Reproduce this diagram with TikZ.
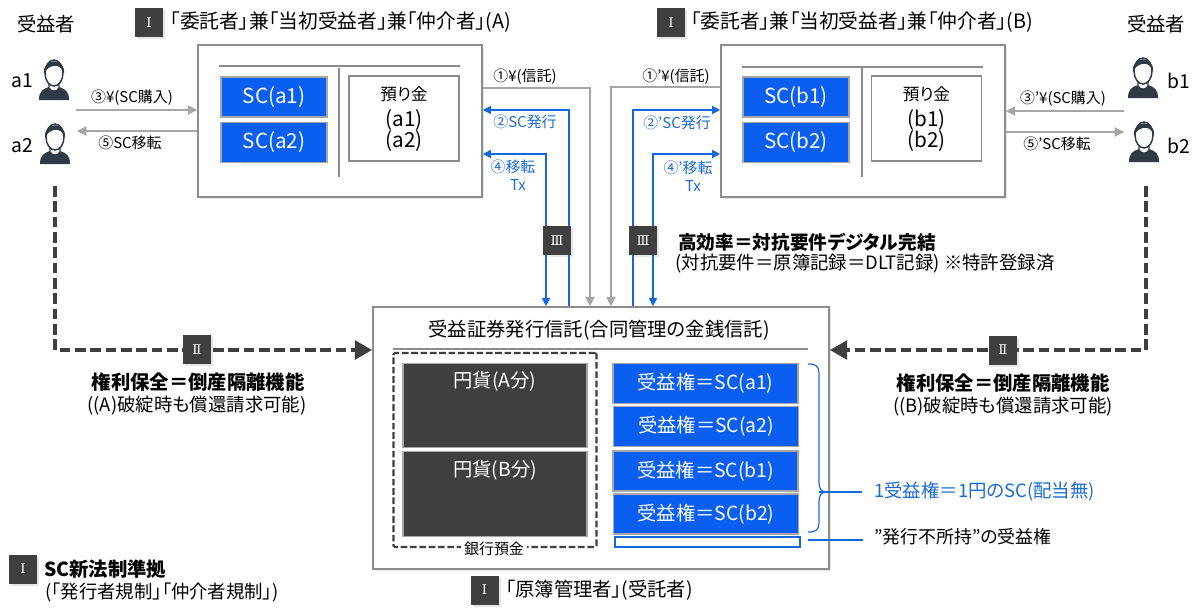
\documentclass[tikz,border=0pt]{standalone}
\usepackage{fontspec}
\setmainfont{Noto Sans CJK JP}[RawFeature=+palt]
\newfontfamily\numfont{DejaVu Serif}
\usetikzlibrary{positioning, arrows.meta, shadows}
\definecolor{scblue}{HTML}{0A5FF0}
\definecolor{lineblue}{HTML}{1467DC}
\definecolor{textblue}{HTML}{1A6AD2}
\definecolor{badgegray}{HTML}{3F3F3F}
\definecolor{rulegray}{HTML}{A6A6A6}
\definecolor{framegray}{HTML}{8C8C8C}
\definecolor{inkgray}{HTML}{2F3A45}
\tikzset{
	boxsize/.style 2 args={minimum width=#1*0.75pt, minimum height=#2*0.75pt, inner sep=0pt},
	softshadow/.style={drop shadow={opacity=0.2, shadow xshift=1.5pt, shadow yshift=-1.5pt}},
	frame/.style={draw=framegray, line width=1.2pt, fill=white, softshadow},
	scbox/.style={draw=rulegray, line width=0.8pt, fill=scblue, text=white},
	darkbox/.style={draw=rulegray, line width=0.8pt, fill=badgegray, anchor=north},
	badge/.style={fill=badgegray, text=white, font=\numfont\fontsize{10}{10}\selectfont, boxsize={28}{29}, softshadow},
	rule/.style={draw=framegray, line width=0.8pt},
	flowgray/.style={draw=rulegray, line width=0.9pt, -{Triangle[length=7pt, width=7pt]}},
	flowblue/.style={draw=lineblue, line width=0.9pt, -{Triangle[length=6pt, width=6pt]}},
	safeline/.style={draw=badgegray, line width=2.7pt, dash pattern=on 8pt off 3.5pt, -{Triangle[length=13pt, width=14pt]}},
	small/.style={font=\fontsize{11.2}{13}\selectfont, inner sep=0pt},
	main/.style={font=\fontsize{14.5}{17}\selectfont, inner sep=0pt},
	sub/.style={font=\fontsize{13.8}{16}\selectfont, inner sep=0pt},
	headline/.style={font=\bfseries\fontsize{14.5}{17}\selectfont, inner sep=0pt},
	pics/person/.style={code={
		\fill[inkgray] (-15,20) .. controls (-15,11) and (-11,9) .. (-5,7) -- (5,7) .. controls (11,9) and (15,11) .. (15,20) -- cycle;
		\fill[white] (-5,5) -- (5,5) -- (5,8) .. controls (3,12) and (-3,12) .. (-5,8) -- cycle;
		\draw[inkgray, line width=0.9pt] (-5,4) -- (-5,8) .. controls (-3,12) and (3,12) .. (5,8) -- (5,4);
		\draw[inkgray, line width=1.1pt, fill=white] (0,-7) ellipse (9 and 13);
		\fill[inkgray] (-10,-6) .. controls (-12,-23) and (12,-23) .. (10,-6) .. controls (8,-13) and (4,-15) .. (-1,-14) .. controls (-5,-13) and (-8,-11) .. (-10,-6) -- cycle;
	}},
}
\begin{document}
\begin{tikzpicture}[x=0.75pt, y=-0.75pt]
	\useasboundingbox (0,0) rectangle (1200,612);

	% two distributors
	\node [frame, boxsize={284}{152}] (bkA) at (340,121) {};
	\node [frame, boxsize={284}{152}] (bkB) at (863,121) {};
	\draw [rule] (219,66) -- (460,66);
	\draw [rule] (339,68) -- (339,177);
	\draw [rule] (742,67) -- (983,67);
	\draw [rule] (862,68) -- (862,177);

	\begin{scope}[every node/.style={scbox, main, font=\fontsize{15.5}{17}\selectfont, boxsize={106}{40}}]
		\node (scA1) at (274,97) {SC(a1)};
		\node [below=3pt of scA1] (scA2) {SC(a2)};
		\node (scB1) at (796,97) {SC(b1)};
		\node [below=3pt of scB1] (scB2) {SC(b2)};
	\end{scope}

	\node [draw=framegray, line width=0.8pt, boxsize={110}{85}] (depA) at (404,118.5) {};
	\node [draw=framegray, line width=0.8pt, boxsize={110}{85}] (depB) at (926.5,118.5) {};
	\node [main, font=\fontsize{12.5}{15}\selectfont] at (404,94) (depAt) {預り金};
	\node [main, align=center, font=\fontsize{15.5}{15.8}\selectfont] at (404,131) (depAs) {(a1)\\(a2)};
	\node [main, font=\fontsize{12.5}{15}\selectfont] at (926.5,94) (depBt) {預り金};
	\node [main, align=center, font=\fontsize{15.5}{15.8}\selectfont] at (926.5,131) (depBs) {(b1)\\(b2)};

	% trust box
	\node [frame, boxsize={456}{262}] (tr) at (601,438) {};
	\node [main] (trt) at (599,330) {受益証券発行信託(合同管理の金銭信託)};
	\draw [rule] (393,349) -- (808,349);
	\node [draw=badgegray, line width=1.6pt, dash pattern=on 5pt off 2pt, rounded corners=1pt, boxsize={203}{194}] (bank) at (495,450) {};
	\node [darkbox, boxsize={184}{84}] (yenA) at (495,363) {};
	\node [darkbox, boxsize={184}{85}] (yenB) at (495,451) {};
	\node [main, text=white] (yenAt) at (495,381) {円貨(A分)};
	\node [main, text=white] (yenBt) at (495,470) {円貨(B分)};
	\node [small, fill=white, inner xsep=2pt] (bankt) at (494,549) {銀行預金};

	\begin{scope}[every node/.style={scbox, main, boxsize={185}{40}}]
		\node (rtA1) at (705.5,383.5) {受益権＝SC(a1)};
		\node (rtA2) at (706,426.5) {受益権＝SC(a2)};
		\node (rtB1) at (705.5,471) {受益権＝SC(b1)};
		\node (rtB2) at (706,514) {受益権＝SC(b2)};
	\end{scope}
	\node [draw=lineblue, line width=0.9pt, fill=white, boxsize={185}{10}] (spare) at (707.5,542) {};

	% notes on the right of the trust box
	\node [sub, anchor=west, text=textblue] (oneSC) at (874,492) {1受益権＝1円のSC(配当無)};
	\node [sub, font=\fontsize{13.4}{16}\selectfont, anchor=west] (unheld) at (874,537) {”発行不所持”の受益権};
	\coordinate (braceTip) at (819,492);
	\draw [lineblue, line width=0.9pt] (808,364) .. controls (816,364) and (819,366) .. (819,374) -- (819,482) .. controls (819,489) and (821,492) .. (827,492) .. controls (821,492) and (819,495) .. (819,502) -- (819,522) .. controls (819,530) and (816,532) .. (808,532);
	\draw [lineblue, line width=0.9pt, shorten >=9pt] (braceTip) -- (oneSC.west);
	\coordinate (spareEnd) at (863,540);
	\draw [lineblue, line width=0.9pt] (808,540) -- (spareEnd);

	% investors
	\pic (pA1) at (54,80) {person};
	\pic (pA2) at (55,144) {person};
	\pic (pB1) at (1143,78) {person};
	\pic (pB2) at (1144,142) {person};
	\node [main] (invA) at (46,24) {受益者};
	\node [main] (invB) at (1156,24) {受益者};
	\node [main] (nA1) at (22,81) {a1};
	\node [main] (nA2) at (22,146) {a2};
	\node [main] (nB1) at (1179,81) {b1};
	\node [main] (nB2) at (1179,146) {b2};

	\coordinate (buyA) at (76,110);
	\coordinate (movA) at (77,131);
	\coordinate (buyB) at (1124,111);
	\coordinate (movB) at (1124,132);
	\draw [flowgray] (buyA) -- (buyA -| bkA.west);
	\draw [flowgray] (movA -| bkA.west) -- (movA);
	\draw [flowgray] (buyB) -- (buyB -| bkB.east);
	\draw [flowgray] (movB -| bkB.east) -- (movB);

	% flows between distributors and trust
	\coordinate (yenAc) at (590,88);
	\coordinate (issAc) at (569,110);
	\coordinate (txAc)  at (546,154);
	\coordinate (yenBc) at (611,87);
	\coordinate (issBc) at (633,110);
	\coordinate (txBc)  at (653,154);
	\draw [flowgray] (yenAc -| bkA.east) -- (yenAc) -- (yenAc |- tr.north);
	\draw [flowgray] (yenBc -| bkB.west) -- (yenBc) -- (yenBc |- tr.north);
	\draw [flowblue] (issAc |- tr.north) -- (issAc) -- (issAc -| bkA.east);
	\draw [flowblue] (issBc |- tr.north) -- (issBc) -- (issBc -| bkB.west);
	\draw [flowblue, {Triangle[length=6pt, width=6pt]}-{Triangle[length=6pt, width=6pt]}] (txAc -| bkA.east) -- (txAc) -- (txAc |- tr.north);
	\draw [flowblue, {Triangle[length=6pt, width=6pt]}-{Triangle[length=6pt, width=6pt]}] (txBc -| bkB.west) -- (txBc) -- (txBc |- tr.north);

	% protection lines
	\coordinate (safeA) at (55,350);
	\coordinate (safeB) at (1146,350);
	\coordinate (topA) at (55,186);
	\coordinate (topB) at (1146,186);
	\draw [safeline] (topA) -- (safeA) -- (safeA -| tr.west);
	\draw [safeline] (topB) -- (safeB) -- (safeB -| tr.east);

	\node [badge] (b1A) at (149,22.5) {Ⅰ};
	\node [badge] (b1B) at (671,22.5) {Ⅰ};
	\node [badge] (b1T) at (484.5,590) {Ⅰ};
	\node [badge] (b1L) at (23,569) {Ⅰ};
	\node [badge] (b2A) at (197,349.5) {Ⅱ};
	\node [badge] (b2B) at (1003,350) {Ⅱ};
	\node [badge] (b3A) at (557,240.5) {Ⅲ};
	\node [badge] (b3B) at (643,240.5) {Ⅲ};

	\node [main, font=\fontsize{14.8}{17}\selectfont, right=5pt of b1A] (ttlA) {「委託者」兼「当初受益者」兼「仲介者」(A)};
	\node [main, font=\fontsize{14.8}{17}\selectfont, right=4pt of b1B] (ttlB) {「委託者」兼「当初受益者」兼「仲介者」(B)};
	\node [main, right=5pt of b1T] (ttlT) {「原簿管理者」(受託者)};

	\begin{scope}[every node/.style={small}]
		\node (l3)  at (132,98)  {③¥(SC購入)};
		\node (l5)  at (130,143) {⑤SC移転};
		\node (l3p) at (1063,99) {③'¥(SC購入)};
		\node (l5p) at (1057,144) {⑤'SC移転};
		\node (l1)  at (525,77)  {①¥(信託)};
		\node (l1p) at (676,77)  {①'¥(信託)};
	\end{scope}
	\begin{scope}[every node/.style={small, text=textblue}]
		\node (l2)  at (525,122) {②SC発行};
		\node (l4)  at (513,167) {④移転};
		\node (lT)  at (518,185) {Tx};
		\node (l2p) at (677,123) {②'SC発行};
		\node (l4p) at (688,168) {④'移転};
		\node (lTp) at (693,186) {Tx};
	\end{scope}

	\node [headline, font=\bfseries\fontsize{14}{17}\selectfont] (effT) at (807,242) {高効率＝対抗要件デジタル完結};
	\node [sub] (effS) at (865,264) {(対抗要件＝原簿記録＝DLT記録) ※特許登録済};
	\node [headline] (safeAt) at (198,382) {権利保全＝倒産隔離機能};
	\node [sub] (safeAs) at (197,406) {((A)破綻時も償還請求可能)};
	\node [headline] (safeBt) at (1003,383) {権利保全＝倒産隔離機能};
	\node [sub] (safeBs) at (1003,407) {((B)破綻時も償還請求可能)};
	\node [headline, anchor=west] (lawT) at (44,569) {SC新法制準拠};
	\node [sub, anchor=west] (lawS) at (45,593) {(「発行者規制」「仲介者規制」)};
\end{tikzpicture}
\end{document}
